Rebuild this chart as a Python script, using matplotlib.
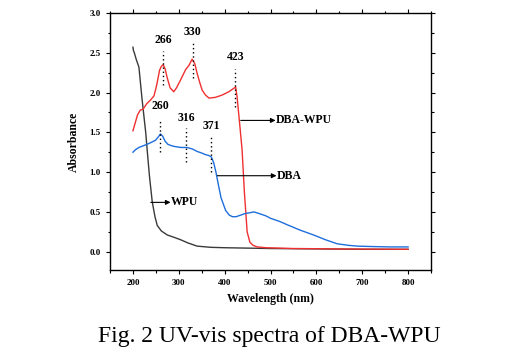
import matplotlib
matplotlib.use('Agg')
import matplotlib.pyplot as plt
from matplotlib.ticker import MultipleLocator

plt.rcParams['font.family'] = ['Liberation Serif', 'DejaVu Serif']

# 数据
wl_wpu = [200, 201, 203, 207, 213, 220, 228, 231, 236, 242, 248, 253, 262, 275, 290,
          304, 320, 340, 370, 400, 500, 600, 700, 800]
abs_wpu = [2.57, 2.53, 2.50, 2.42, 2.32, 1.91, 1.49, 1.28, 0.95, 0.63, 0.44, 0.33, 0.26,
           0.21, 0.18, 0.15, 0.11, 0.07, 0.055, 0.05, 0.04, 0.035, 0.03, 0.03]

wl_dbawpu = [200, 205, 210, 216, 222, 230, 239, 246, 252, 258, 262, 266, 270, 275, 281,
             289, 295, 304, 315, 322, 329, 335, 340, 346, 351, 358, 366, 380, 395, 409,
             424, 427, 432, 438, 443, 449, 455, 462, 471, 490, 550, 650, 800]
abs_dbawpu = [1.52, 1.62, 1.72, 1.78, 1.79, 1.86, 1.91, 1.96, 2.10, 2.28, 2.33, 2.35, 2.30,
              2.18, 2.06, 2.01, 2.06, 2.16, 2.29, 2.34, 2.42, 2.36, 2.24, 2.12, 2.03, 1.97,
              1.93, 1.94, 1.97, 2.01, 2.07, 1.95, 1.65, 1.28, 0.75, 0.25, 0.12, 0.08, 0.06,
              0.05, 0.04, 0.035, 0.03]

wl_dba = [200, 205, 213, 222, 235, 249, 255, 260, 265, 270, 276, 285, 293, 305, 318, 330,
          340, 350, 358, 365, 371, 376, 381, 386, 392, 402, 410, 417, 425, 435, 445, 455,
          464, 475, 490, 500, 520, 540, 565, 594, 620, 645, 670, 690, 720, 760, 800]
abs_dba = [1.25, 1.28, 1.31, 1.33, 1.36, 1.40, 1.44, 1.48, 1.45, 1.39, 1.35, 1.33, 1.32,
           1.31, 1.31, 1.29, 1.26, 1.24, 1.22, 1.21, 1.19, 1.12, 1.00, 0.85, 0.68, 0.52,
           0.46, 0.44, 0.44, 0.46, 0.48, 0.49, 0.50, 0.48, 0.45, 0.42, 0.38, 0.33, 0.27,
           0.21, 0.15, 0.10, 0.08, 0.07, 0.065, 0.06, 0.06]

# 峰位标注: 波长, 虚线起止, 文字位置
peaks = [266, 330, 423, 260, 316, 371]
peak_top = [2.52, 2.62, 2.30, 1.66, 1.55, 1.45]
peak_bottom = [2.10, 2.18, 1.82, 1.25, 1.13, 1.00]
peak_label_y = [2.59, 2.69, 2.37, 1.76, 1.61, 1.50]

# 曲线名称箭头: 起点(波长, 吸光度), 终点波长
names = ['DBA-WPU', 'DBA', 'WPU']
arrow_start = [435, 384, 239]
arrow_y = [1.65, 0.955, 0.62]
arrow_end = [511, 513, 282]

fig = plt.figure(figsize=(5.17, 3.58), dpi=100)
ax = fig.add_axes([0.2128, 0.2458, 0.6209, 0.7179])

ax.plot(wl_wpu, abs_wpu, color='#3a3a3a', lw=1.0)
ax.plot(wl_dbawpu, abs_dbawpu, color='#f03030', lw=1.0)
ax.plot(wl_dba, abs_dba, color='#1e6fdc', lw=1.0)

for i in range(len(peaks)):
    ax.plot([peaks[i], peaks[i]], [peak_bottom[i], peak_top[i]], color='black',
            lw=1.0, linestyle=(0, (1, 2)))
    ax.text(peaks[i], peak_label_y[i], str(peaks[i]), ha='center', va='bottom',
            fontsize=8.5, fontweight='bold')

for i in range(len(names)):
    ax.annotate('', xy=(arrow_end[i], arrow_y[i]), xytext=(arrow_start[i], arrow_y[i]),
                arrowprops=dict(arrowstyle='-|>', color='black', lw=0.8,
                                mutation_scale=7, shrinkA=0, shrinkB=0))
    ax.text(arrow_end[i], arrow_y[i], names[i], ha='left', va='center',
            fontsize=8.5, fontweight='bold')

ax.set_xlim(150, 850)
ax.set_ylim(-0.23, 3.0)
ax.xaxis.set_major_locator(MultipleLocator(100))
ax.xaxis.set_minor_locator(MultipleLocator(50))
ax.yaxis.set_major_locator(MultipleLocator(0.5))
ax.yaxis.set_minor_locator(MultipleLocator(0.25))
ax.set_xticks(range(200, 801, 100))
ax.set_yticks([0.0, 0.5, 1.0, 1.5, 2.0, 2.5, 3.0])
ax.set_yticklabels(['0.0', '0.5', '1.0', '1.5', '2.0', '2.5', '3.0'])

ax.tick_params(which='both', direction='out', labelsize=6.5, width=0.8)
ax.tick_params(which='major', length=3)
ax.tick_params(which='minor', length=1.8)
ax.tick_params(which='both', top=True, right=True)
for lab in ax.get_xticklabels() + ax.get_yticklabels():
    lab.set_fontweight('bold')
for s in ax.spines.values():
    s.set_linewidth(1.0)

ax.set_xlabel('Wavelength (nm)', fontsize=8.5, fontweight='bold', labelpad=4)
ax.set_ylabel('Absorbance', fontsize=8.5, fontweight='bold', labelpad=7)

fig.text(0.52, 0.06, 'Fig. 2 UV-vis spectra of DBA-WPU', ha='center', va='center',
         fontsize=17)

fig.savefig('out.png', dpi=100)
